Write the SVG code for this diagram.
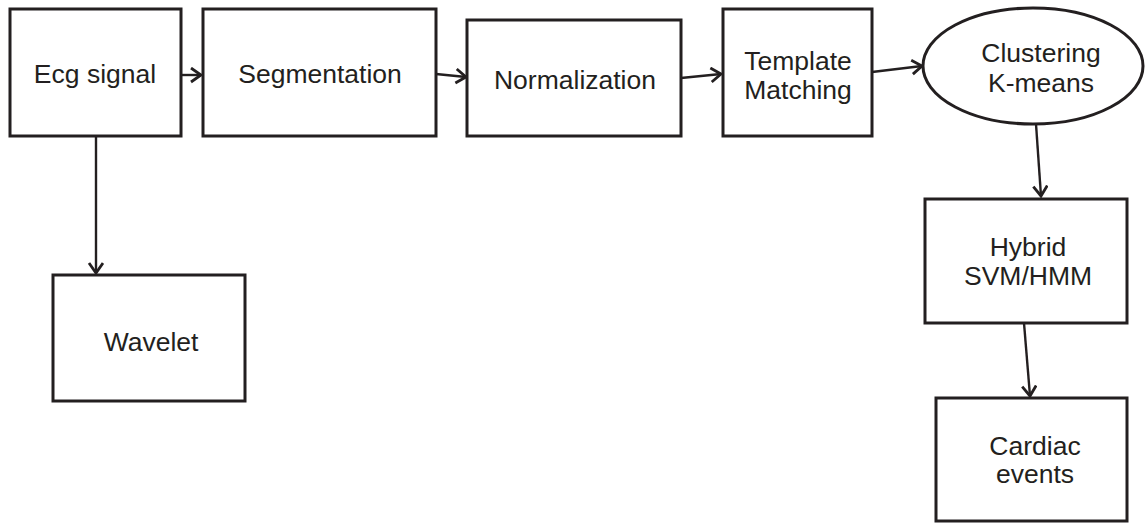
<svg xmlns="http://www.w3.org/2000/svg" width="1145" height="529" viewBox="0 0 1145 529">
<style>
.box{fill:#fff;stroke:#231f20;stroke-width:3}
.lbl{font-family:"Liberation Sans",Arial,sans-serif;font-size:26.5px;fill:#231f20;text-anchor:middle}
.con{fill:none;stroke:#231f20;stroke-width:2.4;marker-end:url(#arr)}
</style>
<defs>
<marker id="arr" markerUnits="userSpaceOnUse" markerWidth="16" markerHeight="20" refX="11" refY="8" orient="auto">
<path d="M1,1 L11,8 L1,15" fill="none" stroke="#231f20" stroke-width="2.8"/>
</marker>
</defs>
<rect width="1145" height="529" fill="#fff"/>
<g id="connectors">
<line class="con" x1="181" y1="75" x2="201" y2="75"/>
<line class="con" x1="436" y1="74" x2="466" y2="77"/>
<line class="con" x1="681" y1="78" x2="721" y2="74"/>
<line class="con" x1="872" y1="72" x2="922" y2="66"/>
<line class="con" x1="1036" y1="124" x2="1041" y2="196"/>
<line class="con" x1="1024" y1="323" x2="1030" y2="396"/>
<line class="con" x1="96" y1="136" x2="96" y2="273"/>
</g>
<g id="ecg"><rect class="box" x="10" y="9" width="171" height="127"/><text class="lbl" x="95" y="83">Ecg signal</text></g>
<g id="segmentation"><rect class="box" x="203" y="9" width="233" height="127"/><text class="lbl" x="320" y="83">Segmentation</text></g>
<g id="normalization"><rect class="box" x="467" y="20" width="214" height="116"/><text class="lbl" x="575" y="89">Normalization</text></g>
<g id="template"><rect class="box" x="723" y="9" width="149" height="127"/><text class="lbl" x="798" y="70">Template</text><text class="lbl" x="798" y="99">Matching</text></g>
<g id="clustering"><ellipse class="box" cx="1033" cy="66" rx="110" ry="58"/><text class="lbl" x="1041" y="62">Clustering</text><text class="lbl" x="1041" y="92">K-means</text></g>
<g id="hybrid"><rect class="box" x="925" y="199" width="202" height="124"/><text class="lbl" x="1028" y="256">Hybrid</text><text class="lbl" x="1028" y="285">SVM/HMM</text></g>
<g id="cardiac"><rect class="box" x="936" y="398" width="191" height="123"/><text class="lbl" x="1035" y="455">Cardiac</text><text class="lbl" x="1035" y="483">events</text></g>
<g id="wavelet"><rect class="box" x="53" y="275" width="192" height="126"/><text class="lbl" x="151" y="351">Wavelet</text></g>
</svg>
